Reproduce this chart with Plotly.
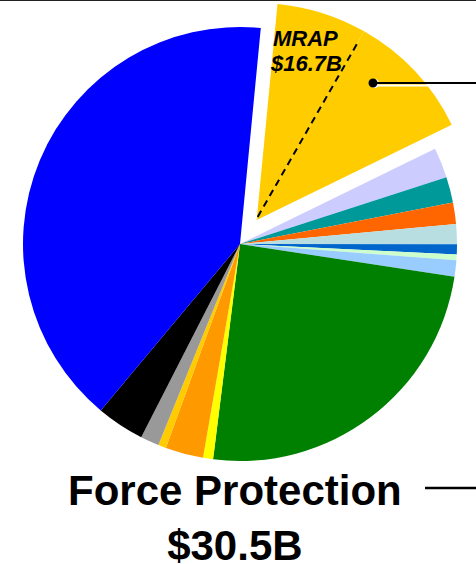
import math
import plotly.graph_objects as go

# ---- data (values in $B) ----
categories = [
    "Force Protection (part 1)", "Force Protection (part 2)",
    "Category C", "Category D", "Category E", "Category F", "Category G",
    "Category H", "Category I", "Category J", "Category K", "Category L",
    "Category M", "Category N", "Category O", "Category P",
]
values = [12.6, 17.9, 4.2, 3.6, 3.0, 2.8, 1.4, 0.8, 2.3, 46.1, 1.4, 5.3, 1.1, 2.6, 6.7, 75.9]
colors = [
    "#FFCC00", "#FFCC00", "#CCCCFF", "#009999", "#FF6600", "#B9DEE2", "#0066CC",
    "#CCFFCC", "#99CCFF", "#008000", "#FFFF00", "#FF9900", "#FFCC00", "#999999",
    "#000000", "#0000FF",
]
pulled = [True, True] + [False] * 14      # the exploded Force Protection wedge
mrap_lines = ["MRAP", "$16.7B"]
fp_label = "Force Protection<br>$30.5B"

# ---- layout geometry ----
W, H = 476, 564
CX, CY, R = 240, 244, 217
ROT = 5.5
PULL = 0.135

total = sum(values)
pulled_sum = sum(v for v, p in zip(values, pulled) if p)
mid_angle = math.radians(ROT + 360 * pulled_sum / total / 2)
dx = PULL * R * math.sin(mid_angle)
dy = -PULL * R * math.cos(mid_angle)


def dom(cx, cy):
    return dict(x=[(cx - R) / W, (cx + R) / W],
                y=[1 - (cy + R) / H, 1 - (cy - R) / H])


base_colors = [("rgba(0,0,0,0)" if p else c) for c, p in zip(colors, pulled)]
pull_colors = [(c if p else "rgba(0,0,0,0)") for c, p in zip(colors, pulled)]

common = dict(labels=categories, values=values, sort=False, direction="clockwise",
              rotation=ROT, textinfo="none", hoverinfo="label+value",
              showlegend=False)

fig = go.Figure()
fig.add_trace(go.Pie(marker=dict(colors=base_colors, line=dict(width=0)),
                     domain=dom(CX, CY), **common))
fig.add_trace(go.Pie(marker=dict(colors=pull_colors, line=dict(width=0)),
                     domain=dom(CX + dx, CY + dy), **common))

# dashed divider inside the pulled wedge (after the first part)
div_angle = math.radians(ROT + 360 * values[0] / total)
tipx, tipy = CX + dx, CY + dy
ex = tipx + 0.94 * R * math.sin(div_angle)
ey = tipy - 0.94 * R * math.cos(div_angle)


def px(x):
    return x / W


def py(y):
    return 1 - y / H


shapes = [
    dict(type="line", xref="paper", yref="paper", x0=0, x1=1, y0=1, y1=1,
         line=dict(color="#222222", width=2)),
    dict(type="line", xref="paper", yref="paper",
         x0=px(tipx + 1), y0=py(tipy - 3), x1=px(ex), y1=py(ey),
         line=dict(color="black", width=2, dash="7px,5px")),
    # callout from the wedge
    dict(type="line", xref="paper", yref="paper", x0=px(375), x1=1, y0=py(85.5), y1=py(85.5),
         line=dict(color="white", width=2)),
    dict(type="circle", xref="paper", yref="paper", x0=px(370), x1=px(379), y0=py(79), y1=py(88),
         fillcolor="white", line=dict(width=0)),
    dict(type="line", xref="paper", yref="paper", x0=px(373), x1=1, y0=py(83), y1=py(83),
         line=dict(color="black", width=2)),
    dict(type="circle", xref="paper", yref="paper", x0=px(368.5), x1=px(377.5), y0=py(78.5), y1=py(87.5),
         fillcolor="black", line=dict(width=0)),
    # Force Protection leader line
    dict(type="line", xref="paper", yref="paper", x0=px(425), x1=1, y0=py(488), y1=py(488),
         line=dict(color="black", width=2.5)),
]

mrap_font = dict(family="Liberation Sans, Arial", size=22, color="black")
annotations = [
    dict(text="<b><i>" + mrap_lines[0] + "</i></b>", xref="paper", yref="paper",
         x=px(271), y=py(24), xanchor="left", yanchor="top", showarrow=False, font=mrap_font),
    dict(text="<b><i>" + mrap_lines[1] + "</i></b>", xref="paper", yref="paper",
         x=px(268), y=py(49), xanchor="left", yanchor="top", showarrow=False, font=mrap_font),
    dict(text="<b>" + fp_label + "</b>", xref="paper", yref="paper",
         x=px(235), y=py(518), xanchor="center", yanchor="middle", align="center", showarrow=False,
         font=dict(family="Liberation Sans, Arial", size=42, color="black")),
]

fig.update_layout(width=W, height=H, margin=dict(l=0, r=0, t=0, b=0),
                  paper_bgcolor="white", plot_bgcolor="white",
                  shapes=shapes, annotations=annotations)

fig.write_html("out.html", config={"displayModeBar": False},
               post_script="document.body.style.margin='0';document.body.style.overflow='hidden';")
